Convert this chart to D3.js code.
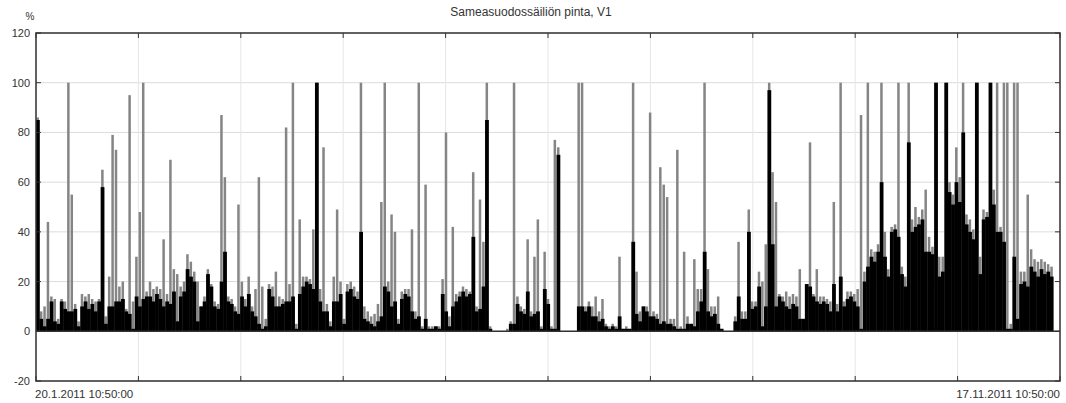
<!DOCTYPE html>
<html lang="fi">
<head>
  <meta charset="UTF-8">
  <title>Sameasuodossäiliön pinta, V1</title>
  <style>
    body { margin: 0; background: #fff; }
    text { font-family: "Liberation Sans", Arial, sans-serif; fill: #333; }
  </style>
</head>
<body>
  <svg id="svg" width="1066" height="403"></svg>
  <script src="https://cdn.jsdelivr.net/npm/d3@7"></script>
  <script>
    // daily values, starting 20.1.2011
    const startLabel = '20.1.2011 10:50:00'
    const endLabel = '17.11.2011 10:50:00'
    const title = 'Sameasuodossäiliön pinta, V1'
    const yTicks = [-20, 0, 20, 40, 60, 80, 100, 120]

    // mean level (black)
    const meanVals = [
      85, 5, 2, 5, 12, 4, 3, 12, 9, 8,
      8, 9, 2, 10, 12, 9, 11, 8, 12, 58,
      3, 10, 10, 12, 12, 13, 8, 7, 1, 14,
      10, 13, 14, 14, 12, 15, 13, 10, 12, 11,
      16, 4, 14, 16, 25, 22, 20, 4, 10, 12,
      23, 18, 10, 9, 20, 32, 12, 11, 8, 7,
      14, 10, 15, 8, 6, 3, 1, 2, 17, 14,
      10, 10, 11, 12, 12, 14, 1, 15, 18, 20,
      19, 17, 100, 12, 8, 8, 2, 12, 12, 15,
      3, 16, 17, 14, 13, 40, 5, 4, 3, 2,
      4, 6, 18, 16, 10, 12, 3, 13, 15, 14,
      8, 5, 6, 1, 5, 1, 1, 2, 1, 15,
      8, 2, 10, 12, 14, 16, 14, 15, 38, 8,
      9, 18, 85, 1, 0, 0, 0, 0, 0, 3,
      3, 11, 8, 7, 16, 6, 7, 8, 1, 17,
      11, 1, 1, 71, 0, 0, 0, 0, 0, 10,
      10, 8, 10, 6, 6, 4, 5, 2, 1, 2,
      1, 6, 1, 1, 1, 36, 7, 4, 10, 8,
      6, 6, 5, 3, 4, 3, 3, 2, 1, 1,
      1, 3, 3, 2, 8, 12, 32, 8, 6, 7,
      3, 1, 0, 0, 0, 4, 14, 5, 5, 40,
      9, 10, 18, 2, 10, 97, 35, 10, 14, 12,
      10, 9, 11, 10, 5, 5, 19, 18, 14, 12,
      11, 12, 11, 8, 19, 8, 22, 10, 13, 14,
      12, 10, 1, 20, 26, 30, 28, 32, 60, 30,
      22, 40, 41, 38, 23, 18, 76, 40, 42, 43,
      45, 32, 32, 31, 100, 22, 24, 100, 56, 51,
      60, 52, 80, 43, 40, 37, 100, 23, 45, 46,
      100, 51, 40, 40, 36, 1, 1, 30, 5, 19,
      20, 18, 26, 24, 22, 25, 23, 24, 22
    ]

    // daily maximum (gray)
    const maxVals = [
      86, 8, 10, 44, 14, 13, 5, 13, 12, 100,
      55, 11, 4, 15, 14, 15, 13, 12, 13, 65,
      6, 22, 79, 73, 18, 20, 9, 95, 12, 30,
      48, 100, 16, 20, 17, 18, 17, 37, 15, 69,
      25, 23, 18, 20, 31, 28, 24, 20, 10, 14,
      25, 19, 12, 11, 87, 62, 14, 13, 10, 51,
      20, 13, 22, 10, 17, 62, 18, 5, 19, 18,
      24, 14, 13, 82, 19, 100, 3, 45, 22, 22,
      21, 41, 100, 17, 74, 11, 4, 22, 49, 20,
      5, 19, 20, 18, 16, 100, 10, 8, 6, 7,
      11, 52, 100, 20, 47, 40, 5, 16, 17, 17,
      41, 8, 100, 2, 59, 2, 2, 2, 2, 21,
      80, 6, 42, 15, 16, 18, 17, 16, 64, 10,
      53, 36, 100, 2, 0, 0, 0, 0, 1, 4,
      100, 14, 10, 9, 37, 8, 30, 45, 2, 32,
      13, 2, 77, 74, 0, 0, 0, 0, 0, 100,
      100, 10, 12, 10, 14, 8, 13, 3, 2, 3,
      2, 30, 1, 2, 1, 100, 24, 8, 10, 10,
      88, 8, 7, 66, 59, 54, 5, 5, 73, 2,
      32, 6, 3, 29, 17, 17, 100, 25, 10, 10,
      14, 1, 0, 0, 0, 6, 36, 8, 8, 49,
      12, 12, 24, 20, 35, 100, 64, 52, 15, 14,
      16, 14, 15, 14, 25, 5, 19, 76, 15, 25,
      14, 14, 13, 12, 52, 11, 100, 12, 16, 16,
      15, 17, 87, 24, 100, 33, 32, 35, 100, 40,
      25, 42, 43, 100, 26, 22, 100, 45, 50, 46,
      49, 57, 38, 34, 100, 30, 30, 100, 60, 55,
      74, 62, 100, 47, 45, 41, 100, 30, 49, 48,
      100, 57, 100, 42, 100, 100, 3, 100, 100, 24,
      24, 55, 33, 29, 28, 29, 28, 27, 26
    ]

    const width = 1066
    const height = 403
    const mLeft = 36, mRight = 1060, mTop = 33, mBottom = 381

    const t0 = new Date(2011, 0, 20, 10, 50)
    const t1 = new Date(2011, 10, 17, 10, 50)
    const day = 24 * 3600 * 1000

    const x = d3.scaleTime().domain([t0, t1]).range([mLeft, mRight])
    const y = d3.scaleLinear().domain([-20, 120]).range([mBottom, mTop])

    const data = meanVals.map((m, i) => ({
      t: new Date(+t0 + i * day),
      t2: new Date(+t0 + (i + 1) * day),
      mean: m,
      max: maxVals[i]
    }))

    const svg = d3.select('#svg')
    svg.append('rect').attr('width', width).attr('height', height).attr('fill', '#fff')

    // grid
    const xGrid = d3.range(11).map(i => new Date(+t0 + i * (t1 - t0) / 10))
    svg.append('g')
      .selectAll('line')
      .data(yTicks)
      .join('line')
      .attr('x1', mLeft).attr('x2', mRight)
      .attr('y1', d => y(d)).attr('y2', d => y(d))
      .attr('stroke', '#dcdcdc')
    svg.append('g')
      .selectAll('line')
      .data(xGrid)
      .join('line')
      .attr('x1', d => x(d)).attr('x2', d => x(d))
      .attr('y1', mTop).attr('y2', mBottom)
      .attr('stroke', '#e6e6e6')

    // bars: gray max first (thin spikes), then black mean
    const bars = svg.append('g')
    bars.selectAll('rect.max')
      .data(data)
      .join('rect')
      .attr('class', 'max')
      .attr('x', d => x(d.t) + 0.5)
      .attr('width', d => x(d.t2) - x(d.t) - 0.9)
      .attr('y', d => y(d.max))
      .attr('height', d => y(0) - y(d.max))
      .attr('fill', '#858585')
    bars.selectAll('rect.mean')
      .data(data)
      .join('rect')
      .attr('class', 'mean')
      .attr('x', d => x(d.t))
      .attr('width', d => x(d.t2) - x(d.t) + 0.4)
      .attr('y', d => y(d.mean))
      .attr('height', d => y(0) - y(d.mean))
      .attr('fill', '#000')

    // zero line
    svg.append('line')
      .attr('x1', mLeft).attr('x2', mRight)
      .attr('y1', y(0)).attr('y2', y(0))
      .attr('stroke', '#333').attr('stroke-width', 1.5)

    // frame
    svg.append('rect')
      .attr('x', mLeft).attr('y', mTop)
      .attr('width', mRight - mLeft).attr('height', mBottom - mTop)
      .attr('fill', 'none').attr('stroke', '#333').attr('stroke-width', 1.5)

    // inner ticks
    const ticks = svg.append('g').attr('stroke', '#333')
    xGrid.forEach(d => {
      ticks.append('line').attr('x1', x(d)).attr('x2', x(d)).attr('y1', mTop).attr('y2', mTop + 5)
      ticks.append('line').attr('x1', x(d)).attr('x2', x(d)).attr('y1', mBottom).attr('y2', mBottom - 5)
    })
    yTicks.forEach(v => {
      ticks.append('line').attr('x1', mLeft).attr('x2', mLeft + 5).attr('y1', y(v)).attr('y2', y(v))
      ticks.append('line').attr('x1', mRight).attr('x2', mRight - 5).attr('y1', y(v)).attr('y2', y(v))
    })

    // y labels
    svg.append('g')
      .selectAll('text')
      .data(yTicks)
      .join('text')
      .attr('x', 30)
      .attr('y', d => y(d) + 4)
      .attr('text-anchor', 'end')
      .attr('font-size', 11)
      .text(d => d)

    svg.append('text').attr('x', 30).attr('y', 20).attr('text-anchor', 'middle')
      .attr('font-size', 10).text('%')

    svg.append('text').attr('x', 531).attr('y', 16).attr('text-anchor', 'middle')
      .attr('font-size', 12).text(title)

    svg.append('text').attr('x', 35).attr('y', 398).attr('font-size', 11.5).text(startLabel)
    svg.append('text').attr('x', 1060).attr('y', 398).attr('text-anchor', 'end')
      .attr('font-size', 11.5).text(endLabel)
  </script>
</body>
</html>
